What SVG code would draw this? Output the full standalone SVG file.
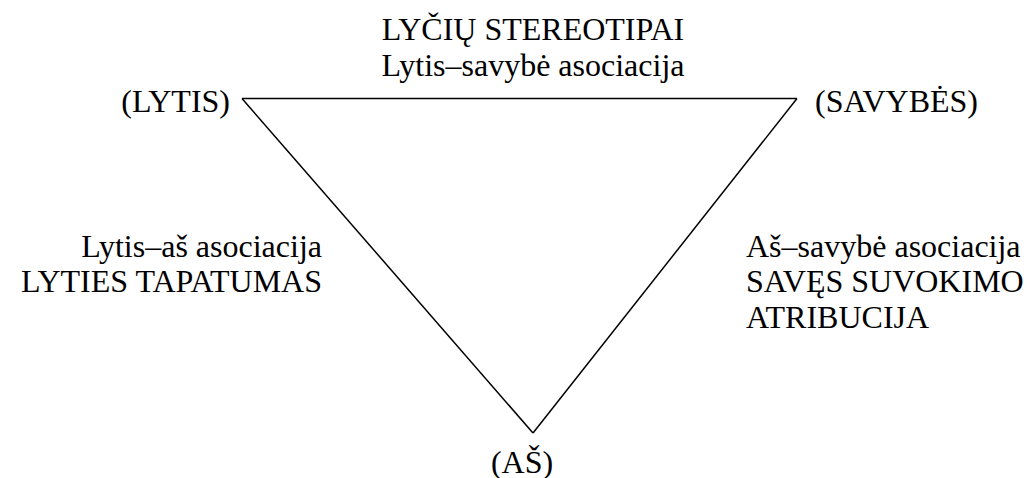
<svg xmlns="http://www.w3.org/2000/svg" width="1030" height="478" viewBox="0 0 1030 478">
  <rect width="1030" height="478" fill="#fff"/>
  <g id="connectors" stroke="#000" stroke-width="1.5" fill="none">
    <line x1="242" y1="98.5" x2="797" y2="98.5"/>
    <line x1="242" y1="98.5" x2="533" y2="433"/>
    <line x1="797" y1="98.5" x2="533" y2="433"/>
  </g>
  <g id="node-lytis">
    <text x="230" y="112" font-size="32" font-family="Liberation Serif" text-anchor="end">(LYTIS)</text>
  </g>
  <g id="node-savybes">
    <text x="815" y="112" font-size="32" font-family="Liberation Serif">(SAVYBĖS)</text>
  </g>
  <g id="node-as">
    <text x="522" y="473" font-size="32" font-family="Liberation Serif" text-anchor="middle">(AŠ)</text>
  </g>
  <g id="label-top">
    <text x="533" y="40" font-size="32" font-family="Liberation Serif" text-anchor="middle">LYČIŲ STEREOTIPAI</text>
    <text x="533" y="76" font-size="32" font-family="Liberation Serif" text-anchor="middle">Lytis–savybė asociacija</text>
  </g>
  <g id="label-left">
    <text x="322" y="257" font-size="32" font-family="Liberation Serif" text-anchor="end">Lytis–aš asociacija</text>
    <text x="322" y="292" font-size="32" font-family="Liberation Serif" text-anchor="end">LYTIES TAPATUMAS</text>
  </g>
  <g id="label-right">
    <text x="746" y="257" font-size="32" font-family="Liberation Serif">Aš–savybė asociacija</text>
    <text x="746" y="292" font-size="32" font-family="Liberation Serif">SAVĘS SUVOKIMO</text>
    <text x="746" y="328" font-size="32" font-family="Liberation Serif">ATRIBUCIJA</text>
  </g>
</svg>
